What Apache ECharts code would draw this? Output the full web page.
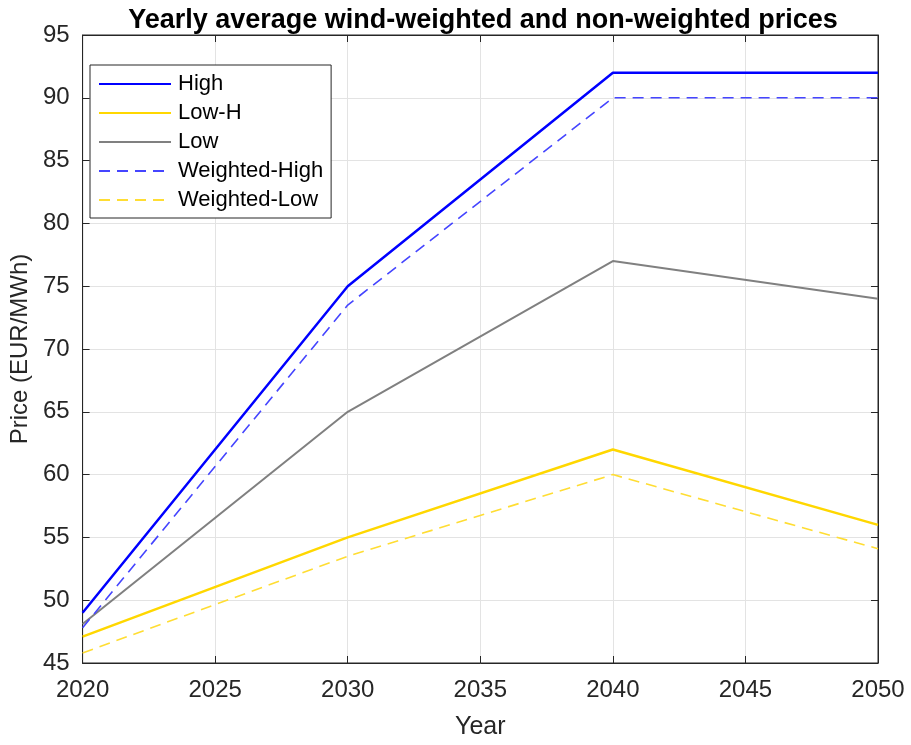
<!DOCTYPE html>
<html><head><meta charset="utf-8">
<script src="https://cdn.jsdelivr.net/npm/echarts@6/dist/echarts.min.js"></script>
<style>html,body{margin:0;padding:0;background:#fff;}#c{width:911px;height:745px;}</style>
</head><body><div id="c"></div>
<script>
const years = [2020, 2030, 2040, 2050];
const high = [49, 75, 92, 92];
const lowH = [47.1, 55, 62, 56];
const low = [48.1, 65, 77, 74];
const weightedHigh = [47.8, 73.5, 90, 90];
const weightedLow = [45.8, 53.5, 60, 54.1];
const xTicks = [2020, 2025, 2030, 2035, 2040, 2045, 2050];
const yTicks = [45, 50, 55, 60, 65, 70, 75, 80, 85, 90, 95];

const pair = arr => years.map((y, i) => [y, arr[i]]);
const font = 'Liberation Sans, Arial, sans-serif';
const seriesDefs = [
  {name: 'High', data: high, color: '#0000ff', type: 'solid', width: 2.5},
  {name: 'Low-H', data: lowH, color: '#ffd700', type: 'solid', width: 2.5},
  {name: 'Low', data: low, color: '#808080', type: 'solid', width: 2},
  {name: 'Weighted-High', data: weightedHigh, color: '#4545ff', type: [11, 7], width: 1.6},
  {name: 'Weighted-Low', data: weightedLow, color: '#ffdd33', type: [11, 7], width: 1.6}
];
const chart = echarts.init(document.getElementById('c'));
const axisCommon = {
  axisLine: {show: true, lineStyle: {color: '#262626', width: 1}},
  axisTick: {show: true, inside: true, length: 7, lineStyle: {color: '#262626'}},
};
chart.setOption({
  animation: false,
  backgroundColor: '#fff',
  title: {text: 'Yearly average wind-weighted and non-weighted prices', left: 478, textAlign: 'center', top: 2,
    textStyle: {fontFamily: font, fontWeight: 'bold', fontSize: 27, color: '#000'}},
  grid: {left: 82, right: 33, top: 35, bottom: 78, show: true, borderColor: '#262626', borderWidth: 1},
  legend: {
    orient: 'vertical', left: 90, top: 65,
    backgroundColor: '#fff', borderColor: '#262626', borderWidth: 1,
    padding: [8, 8, 7, 8], itemGap: 7, itemWidth: 72, itemHeight: 14,
    itemStyle: {opacity: 0},
    textStyle: {fontFamily: font, fontSize: 22, color: '#000', padding: [0, 0, 0, 2]},
    data: seriesDefs.map(s => s.name),
  },
  xAxis: [
    Object.assign({type: 'value', min: 2020, max: 2050, interval: 5, name: 'Year', nameLocation: 'middle', nameGap: 52,
      nameTextStyle: {fontFamily: font, fontSize: 25, color: '#262626'},
      axisLabel: {fontFamily: font, fontSize: 24, color: '#262626', margin: 15,
        formatter: v => xTicks.includes(v) ? String(v) : ''},
      splitLine: {show: true, lineStyle: {color: '#e3e3e3', width: 1}}}, axisCommon),
    Object.assign({type: 'value', min: 2020, max: 2050, interval: 5, position: 'top',
      axisLabel: {show: false}, splitLine: {show: false}}, axisCommon)
  ],
  yAxis: [
    Object.assign({type: 'value', min: 45, max: 95, interval: 5, name: 'Price (EUR/MWh)', nameLocation: 'middle', nameGap: 50,
      nameTextStyle: {fontFamily: font, fontSize: 24, color: '#262626'},
      axisLabel: {fontFamily: font, fontSize: 24, color: '#262626', margin: 13,
        formatter: v => yTicks.includes(v) ? String(v) : ''},
      splitLine: {show: true, lineStyle: {color: '#e3e3e3', width: 1}}}, axisCommon),
    Object.assign({type: 'value', min: 45, max: 95, interval: 5, position: 'right',
      axisLabel: {show: false}, splitLine: {show: false}}, axisCommon)
  ],
  series: seriesDefs.map(s => ({
    name: s.name, type: 'line', data: pair(s.data), showSymbol: false, symbol: 'none',
    color: s.color,
    lineStyle: {color: s.color, width: s.width, type: s.type},
    itemStyle: {color: s.color}
  }))
});
</script></body></html>
